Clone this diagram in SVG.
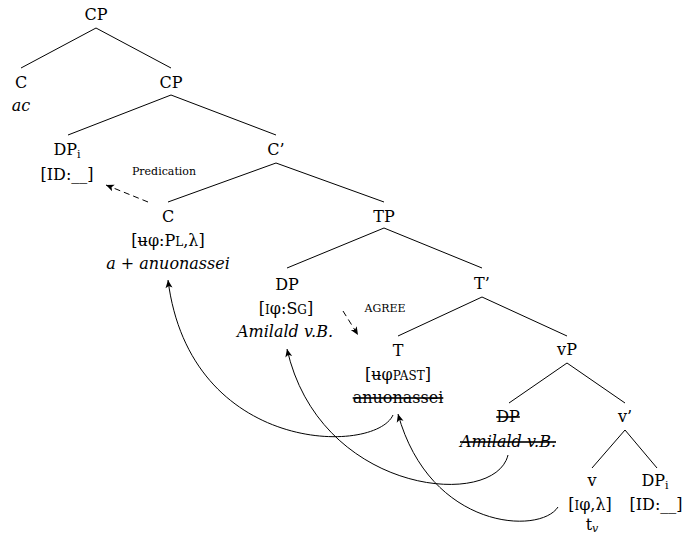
<svg xmlns="http://www.w3.org/2000/svg" width="683" height="539" viewBox="0 0 683 539">
  <style>
    text { font-family: "DejaVu Serif", "Liberation Serif", serif; font-size: 16px; fill: #000; text-anchor: middle; }
    .it { font-style: italic; }
    .sc { font-size: 12px; }
    .sub { font-size: 11px; }
    .lbl { font-size: 11px; }
    .strike { text-decoration: line-through; }
    .edge { stroke: #000; stroke-width: 1; fill: none; }
    .dash { stroke: #000; stroke-width: 1; fill: none; stroke-dasharray: 6 4; }
    .move { stroke: #000; stroke-width: 1; fill: none; }
  </style>
  <defs>
    <marker id="head" markerUnits="userSpaceOnUse" markerWidth="12" markerHeight="10" refX="8" refY="4" orient="auto" overflow="visible">
      <path d="M8,4 L0,0.5 L2,4 L0,7.5 Z" fill="#000"/>
    </marker>
  </defs>
  <rect width="683" height="539" fill="#fff"/>

  <!-- tree branches -->
  <g id="connectors">
    <line class="edge" x1="96" y1="28" x2="21" y2="68"/>
    <line class="edge" x1="96" y1="28" x2="171" y2="68"/>
    <line class="edge" x1="171" y1="95" x2="68" y2="135"/>
    <line class="edge" x1="171" y1="95" x2="276" y2="135"/>
    <line class="edge" x1="276" y1="163" x2="168" y2="202"/>
    <line class="edge" x1="276" y1="163" x2="384" y2="202"/>
    <line class="edge" x1="384" y1="228" x2="287" y2="268"/>
    <line class="edge" x1="384" y1="228" x2="482" y2="268"/>
    <line class="edge" x1="482" y1="297" x2="398" y2="336"/>
    <line class="edge" x1="482" y1="297" x2="567" y2="336"/>
    <line class="edge" x1="567" y1="363" x2="509" y2="403"/>
    <line class="edge" x1="567" y1="363" x2="625" y2="403"/>
    <line class="edge" x1="625" y1="430" x2="592" y2="468"/>
    <line class="edge" x1="625" y1="430" x2="657" y2="468"/>

    <!-- dashed relations -->
    <path class="dash" d="M148,202 L106,185" marker-end="url(#head)"/>
    <path class="dash" d="M343,311 L358,335" marker-end="url(#head)"/>

    <!-- movement arrows -->
    <path class="move" d="M393,415 C375,455 190,455 168,280" marker-end="url(#head)"/>
    <path class="move" d="M508,455 C495,510 320,495 287,349" marker-end="url(#head)"/>
    <path class="move" d="M558,507 C540,535 430,530 398,414" marker-end="url(#head)"/>
  </g>

  <g id="cp-top"><text x="96" y="20">CP</text></g>
  <g id="c-ac">
    <text x="21" y="88">C</text>
    <text class="it" x="21" y="111">ac</text>
  </g>
  <g id="cp-low"><text x="171" y="88">CP</text></g>
  <g id="dp-i-top">
    <text x="67" y="155">DP<tspan class="sub" dy="3">i</tspan></text>
    <text x="67" y="180">[ID:__]</text>
  </g>
  <g id="c-bar"><text x="276" y="155">C’</text></g>
  <g id="predication-label"><text class="lbl" x="164" y="175">Predication</text></g>
  <g id="c-head">
    <text x="168" y="222">C</text>
    <text x="168" y="246">[ʉφ:P<tspan class="sc">L</tspan>,λ]</text>
    <text class="it" x="168" y="269">a + anuonassei</text>
  </g>
  <g id="tp"><text x="384" y="222">TP</text></g>
  <g id="dp-subject">
    <text x="287" y="290">DP</text>
    <text x="286" y="314">[<tspan class="sc">I</tspan>φ:S<tspan class="sc">G</tspan>]</text>
    <text class="it" x="285" y="337">Amilald v.B.</text>
  </g>
  <g id="agree-label"><text class="lbl" x="385" y="312">AGREE</text></g>
  <g id="t-bar"><text x="482" y="289">T’</text></g>
  <g id="t-head">
    <text x="398" y="356">T</text>
    <text x="398" y="380">[ʉφ<tspan class="sc">PAST</tspan>]</text>
    <text class="strike" x="398" y="403">anuonassei</text>
  </g>
  <g id="vp"><text x="567" y="355">vP</text></g>
  <g id="dp-copy">
    <text class="strike" x="508" y="422">DP</text>
    <text class="it strike" x="508" y="447">Amilald v.B.</text>
  </g>
  <g id="v-bar"><text x="625" y="422">v’</text></g>
  <g id="v-head">
    <text x="592" y="486">v</text>
    <text x="590" y="510">[<tspan class="sc">I</tspan>φ,λ]</text>
    <text x="592" y="530">t<tspan class="sub it" dy="2">v</tspan></text>
  </g>
  <g id="dp-i-low">
    <text x="655" y="486">DP<tspan class="sub" dy="3">i</tspan></text>
    <text x="656" y="510">[ID:__]</text>
  </g>
</svg>
